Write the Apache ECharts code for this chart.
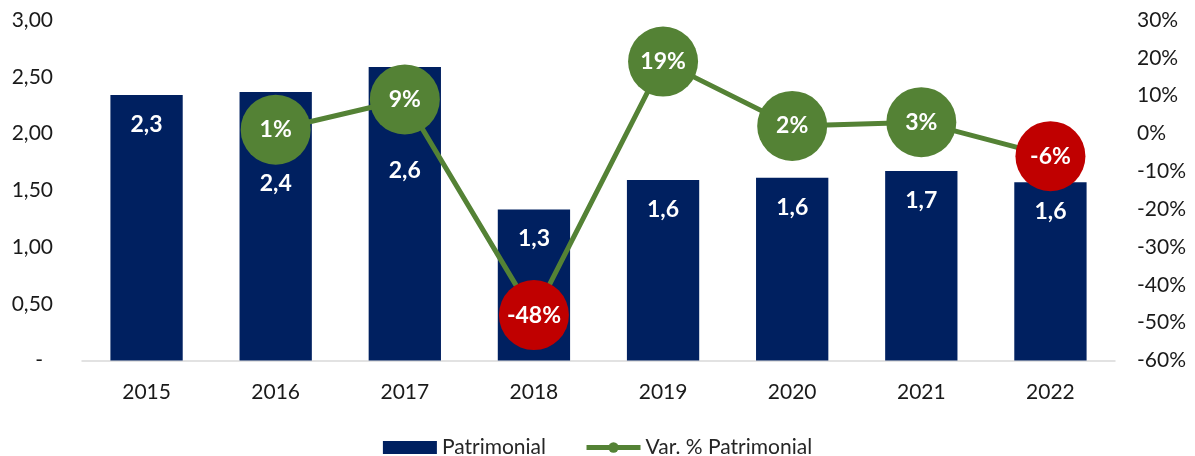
<!DOCTYPE html>
<html>
<head>
<meta charset="utf-8">
<script src="https://cdn.jsdelivr.net/npm/echarts@6/dist/echarts.min.js"></script>
<style>html,body{margin:0;padding:0;background:#fff;}#c{width:1195px;height:456px;}</style>
</head>
<body>
<div id="c"></div>
<script>
const categories = ['2015','2016','2017','2018','2019','2020','2021','2022'];
const patrimonial = [2.34, 2.365, 2.585, 1.33, 1.59, 1.61, 1.67, 1.57];
const varPatrimonial = [null, 1, 9, -48, 19, 2, 3, -6];
const leftTicks = [0, 0.5, 1, 1.5, 2, 2.5, 3];
const rightTicks = [-60, -50, -40, -30, -20, -10, 0, 10, 20, 30];

const NAVY = '#002060', GREEN = '#548235', RED = '#C00000';
const FONT = 'Lato';
const AX = 21;
// label offsets (px) for bars whose label is pushed down by a circle
const barLabelDist = {1: 80, 2: 92};

const chart = echarts.init(document.getElementById('c'));
chart.setOption({
  animation: false,
  textStyle: {fontFamily: FONT},
  grid: {left: 82, right: 80, top: 20, bottom: 95.5},
  legend: {
    top: 432,
    left: 'center',
    itemGap: 38,
    itemWidth: 54,
    itemHeight: 13,
    textStyle: {fontFamily: FONT, fontSize: 21, color: '#262626'},
    data: [
      {name: 'Patrimonial', icon: 'rect'},
      {name: 'Var. % Patrimonial', lineStyle: {width: 5}}
    ]
  },
  xAxis: {
    type: 'category',
    data: categories,
    axisLine: {lineStyle: {color: '#D9D9D9', width: 1.5}},
    axisTick: {show: false},
    axisLabel: {fontFamily: FONT, fontSize: AX, color: '#1a1a1a', margin: 21}
  },
  yAxis: [
    {
      type: 'value', min: leftTicks[0], max: leftTicks[leftTicks.length-1], interval: 0.5,
      splitLine: {show: false}, axisLine: {show: false}, axisTick: {show: false},
      axisLabel: {
        fontFamily: FONT, fontSize: AX, color: '#1a1a1a', margin: 29,
        formatter: v => v === 0 ? '{d|-}' : v.toFixed(2).replace('.', ','),
        rich: {d: {fontFamily: FONT, fontSize: AX, color: '#1a1a1a', padding: [0, 10, 0, 0]}}
      }
    },
    {
      type: 'value', min: rightTicks[0], max: rightTicks[rightTicks.length-1], interval: 10,
      position: 'right',
      splitLine: {show: false}, axisLine: {show: false}, axisTick: {show: false},
      axisLabel: {fontFamily: FONT, fontSize: AX, color: '#1a1a1a', margin: 22, formatter: v => v + '%'}
    }
  ],
  series: [
    {
      name: 'Patrimonial',
      type: 'bar',
      barWidth: '56%',
      itemStyle: {color: NAVY},
      data: patrimonial.map((v, i) => barLabelDist[i] !== undefined
        ? {value: v, label: {distance: barLabelDist[i]}} : v),
      label: {
        show: true, position: 'insideTop', distance: 18,
        fontFamily: FONT, fontSize: 23, fontWeight: 'bold', color: '#fff',
        formatter: p => p.value.toFixed(1).replace('.', ',')
      },
      z: 2
    },
    {
      name: 'Var. % Patrimonial',
      type: 'line',
      yAxisIndex: 1,
      symbol: 'circle',
      symbolSize: 70,
      color: GREEN,
      lineStyle: {color: GREEN, width: 5},
      itemStyle: {color: GREEN},
      data: varPatrimonial.map(v => (v !== null && v < 0) ? {value: v, itemStyle: {color: RED}} : v),
      label: {
        show: true, position: 'inside',
        fontFamily: FONT, fontSize: 23, fontWeight: 'bold', color: '#fff',
        formatter: p => p.value + '%'
      },
      z: 5
    }
  ]
});
</script>
</body>
</html>
